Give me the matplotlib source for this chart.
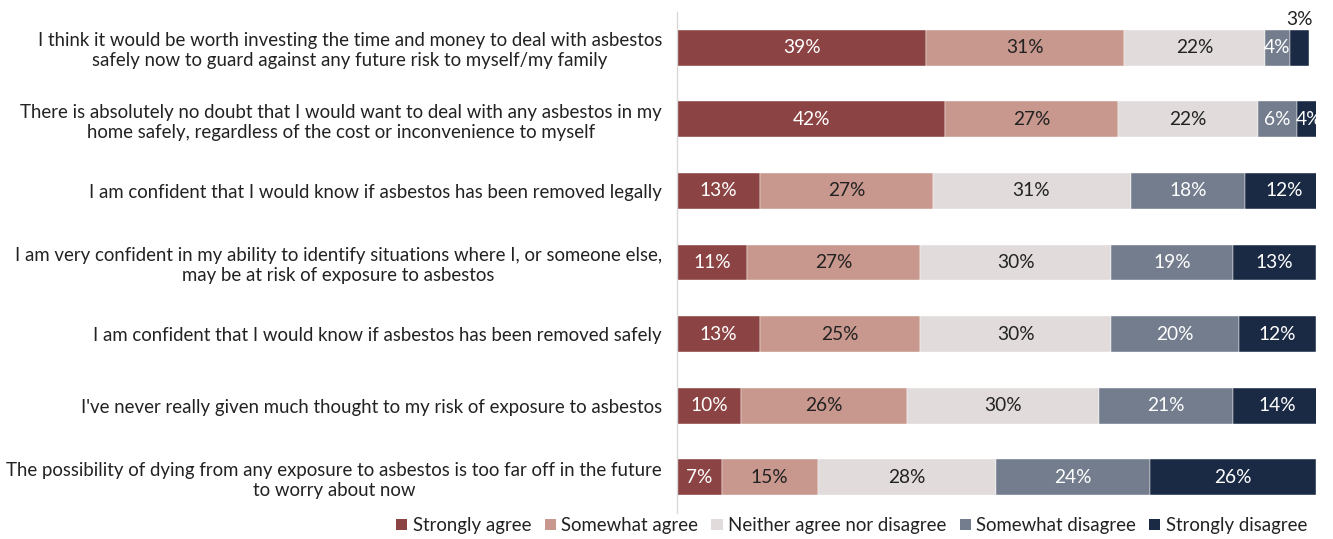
import numpy as np
import matplotlib.pyplot as plt
from matplotlib.patches import Patch

plt.rcParams['font.family'] = ['Lato', 'DejaVu Sans']

statements = [
    "I think it would be worth investing the time and money to deal with asbestos\nsafely now to guard against any future risk to myself/my family",
    "There is absolutely no doubt that I would want to deal with any asbestos in my\nhome safely, regardless of the cost or inconvenience to myself",
    "I am confident that I would know if asbestos has been removed legally",
    "I am very confident in my ability to identify situations where I, or someone else,\nmay be at risk of exposure to asbestos",
    "I am confident that I would know if asbestos has been removed safely",
    "I've never really given much thought to my risk of exposure to asbestos",
    "The possibility of dying from any exposure to asbestos is too far off in the future\nto worry about now",
]

strongly_agree = [39, 42, 13, 11, 13, 10, 7]
somewhat_agree = [31, 27, 27, 27, 25, 26, 15]
neither = [22, 22, 31, 30, 30, 30, 28]
somewhat_disagree = [4, 6, 18, 19, 20, 21, 24]
strongly_disagree = [3, 4, 12, 13, 12, 14, 26]

series_names = ["Strongly agree", "Somewhat agree", "Neither agree nor disagree",
                "Somewhat disagree", "Strongly disagree"]
colors = ["#8B4443", "#C8978D", "#E1DBDB", "#737D8D", "#1B2A44"]
text_colors = ["white", "#222222", "#222222", "white", "white"]

series = [strongly_agree, somewhat_agree, neither, somewhat_disagree, strongly_disagree]

fig = plt.figure(figsize=(13.33, 5.39), dpi=100)
ax = fig.add_axes([0.508, 0.048, 0.479, 0.93])

y = np.arange(len(statements))
left = np.zeros(len(statements))
for vals, col, tcol in zip(series, colors, text_colors):
    vals = np.array(vals, dtype=float)
    ax.barh(y, vals, left=left, height=0.5, color=col, edgecolor='white', linewidth=0.3)
    for yi, (l, v) in enumerate(zip(left, vals)):
        if v <= 3:
            # too narrow, put label above the bar
            ax.text(l + v / 2, yi - 0.28, f"{int(v)}%", ha='center', va='bottom',
                    fontsize=13.8, color='#222222')
        else:
            ax.text(l + v / 2, yi, f"{int(v)}%", ha='center', va='center',
                    fontsize=13.8, color=tcol)
    left += vals

ax.set_xlim(0, 100)
ax.set_ylim(len(statements) - 0.5, -0.5)
ax.set_yticks(y)
ax.set_yticklabels(statements, fontsize=13.4, color='#222222', multialignment='center')
ax.tick_params(axis='y', length=0, pad=11)
ax.set_xticks([])
for s in ['top', 'right', 'bottom']:
    ax.spines[s].set_visible(False)
ax.spines['left'].set_color('#D9D9D9')
ax.spines['left'].set_linewidth(1)

handles = [Patch(facecolor=c, label=n) for c, n in zip(colors, series_names)]
fig.legend(handles=handles, loc='center', bbox_to_anchor=(0.639, 0.025), ncol=5,
           frameon=False, fontsize=13.4, handlelength=0.6, handleheight=0.6,
           handletextpad=0.3, columnspacing=0.7, labelcolor='#222222')

fig.savefig('out.png', dpi=100)
